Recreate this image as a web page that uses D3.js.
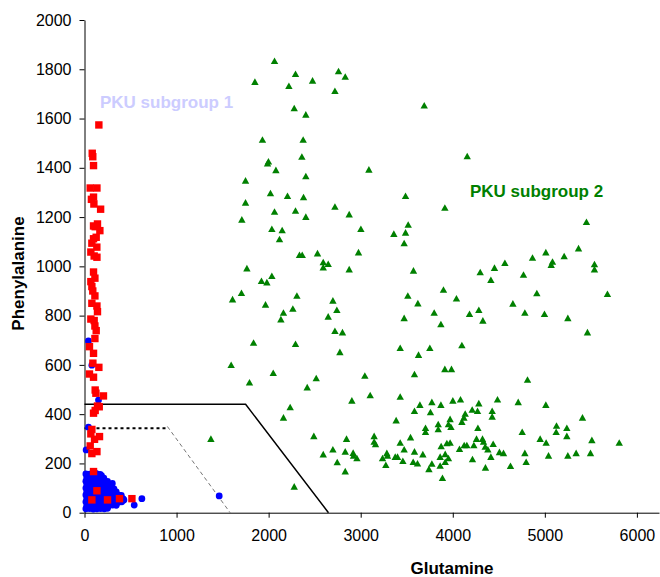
<!DOCTYPE html>
<html>
<head>
<meta charset="utf-8">
<script src="https://cdn.jsdelivr.net/npm/d3@7"></script>
<style>
  html, body { margin: 0; padding: 0; background: #ffffff; }
  svg { display: block; font-family: "Liberation Sans", Arial, sans-serif; }
</style>
</head>
<body>
<svg id="chart" width="660" height="577"></svg>
<script>
// ---------------- DATA ----------------
const xTicks = [0, 1000, 2000, 3000, 4000, 5000, 6000];
const yTicks = [0, 200, 400, 600, 800, 1000, 1200, 1400, 1600, 1800, 2000];
const xTitle = "Glutamine";
const yTitle = "Phenylalanine";
const label1 = "PKU subgroup 1";
const label2 = "PKU subgroup 2";

// Controls (blue circles): [Glutamine, Phenylalanine]
const controls = [
  [43,697],[80,599],[152,457],[43,347],[18,255],[1463,68],[623,57],[540,31],[428,52],
  [15,157],[55,156],[95,158],[135,157],[170,155],[110,163],
  [25,143],[65,142],[105,144],[145,143],[185,150],[210,140],
  [15,128],[55,129],[95,127],[135,128],[175,128],[215,129],[250,127],
  [25,114],[65,113],[105,115],[145,114],[185,113],[225,115],[265,114],[302,119],
  [15,100],[55,101],[95,99],[135,100],[175,100],[215,101],[255,99],[295,100],[320,97],
  [25,86],[65,87],[105,85],[145,86],[185,87],[225,86],[265,85],[305,87],[345,84],
  [15,72],[55,73],[95,71],[135,72],[175,73],[215,72],[255,71],[295,72],[335,73],[375,71],[400,70],
  [25,58],[65,59],[105,57],[145,58],[185,59],[225,58],[265,57],[305,58],[345,59],[385,57],[420,56],
  [15,44],[55,45],[95,43],[135,44],[175,45],[215,44],[255,43],[295,44],[335,45],[375,43],[405,44],
  [25,30],[65,31],[105,29],[145,30],[185,31],[225,30],[265,29],[305,31],[345,30],
  [15,16],[55,17],[95,15],[135,16],[175,17],[215,16],[250,18]
];

// PKU subgroup 1 (red squares)
const pku1 = [
  [156,1574],[84,1459],[90,1445],[98,1409],[62,1318],[135,1318],[98,1281],[75,1272],[102,1253],[175,1232],
  [98,1164],[141,1172],[116,1161],[167,1145],[98,1112],[127,1118],[80,1094],[134,1078],[69,1058],[105,1042],
  [135,1037],[98,977],[113,952],[69,938],[80,918],[90,900],[113,880],[80,850],[135,839],[141,816],
  [69,786],[105,780],[113,758],[127,739],[113,707],[54,674],[98,647],[91,607],[156,590],[54,563],
  [98,550],[116,498],[124,485],[206,474],[160,430],[141,433],[98,404],[116,415],[80,338],[69,320],
  [163,309],[109,298],[62,271],[135,248],[80,240],[98,167],[135,89],[80,52],[250,52],[380,57],[515,57]
];

// PKU subgroup 2 (green triangles)
const pku2 = [
  [2064,1834],[2292,1781],[1851,1749],[2220,1732],[2477,1754],[2278,1642],[2404,1616],[1933,1514],[2375,1514],[2361,1445],
  [1988,1418],[1998,1426],[2079,1391],[2404,1366],[1749,1348],
  [2020,1297],[2205,1286],[2379,1281],[1749,1259],[2064,1222],[2292,1226],[2404,1201],[1709,1190],[2035,1152],[2147,1147],
  [2118,1110],[2335,1046],[2365,1046],[2531,1053],[2593,1017],[2647,1010],[2593,996],[1764,992],[1922,941],[1981,935],
  [2035,961],[1705,892],[1608,866],[2307,881],[1966,845],[2263,828],[2161,812],[2133,785],[2647,796],
  [1836,690],[2292,685],[1593,600],[2050,567],[1792,529],[2517,546],[2419,509],[2234,428],[2161,386],[1373,300],
  [2491,311],[2593,237],[2278,106],
  [2759,1792],[2832,1770],[2720,1712],[3690,1653],[4157,1447],[3089,1393],[3487,1286],[2720,1242],[2875,1211],[3914,1238],
  [3002,1152],[3360,1132],[3487,1137],[3516,1169],[3472,1094],[5452,1180],[5366,1073],[5011,1057],[5210,1041],[4866,1035],
  [5083,1019],[5069,1006],[5539,1009],[5539,988],[4566,1014],[4453,994],[4298,976],[4768,966],[4414,945],[2976,1057],
  [2875,988],[3573,983],[3899,905],
  [4913,891],[5680,888],[3512,881],[2698,861],[3621,850],[4040,870],[4653,849],[2741,823],[3798,812],[4182,807],
  [4283,823],[4783,812],[4996,807],[5250,790],[3472,790],[4327,780],[3871,765],[2720,738],[2802,732],[5463,732],
  [3429,669],[3751,669],[4099,680],[2774,652],[3628,641],[3914,583],[3986,583],[3584,562],[4812,540],[3045,556],
  [3103,477],[3429,471],[2904,455],[3643,438],[3773,449],[3871,438],[4001,455],[4084,460],[4283,444],[4486,460],
  [4711,449],[5011,438],[3584,413],[3758,408],[4211,418],[4269,413],[3385,375],[4135,402],[4121,386],[4099,369],
  [4428,413],[4428,390],[3971,380],[3953,359],[3980,348],[3842,359],[3842,339],[3704,344],[3704,328],[4273,344],
  [5409,386],[4754,328],[5127,353],[5123,328],[5239,344],[5239,311],[3146,311],[3146,288],[3161,278],[3541,306],
  [2698,257],[2846,300],[2832,248],[3429,284],[3472,257],[3874,270],[3936,282],[3971,284],[4073,259],[4124,274],
  [4153,274],[4229,274],[4258,300],[4323,300],[4334,288],[4352,268],[4381,257],[4439,279],[4949,300],[5014,284],
  [5511,295],[5808,284],[2918,243],[2922,232],[2959,221],[2745,205],[2832,168],[3237,221],[3284,242],[3291,232],
  [3273,194],[3375,227],[3400,227],[3458,210],[3584,248],[3570,206],[3617,200],[3675,237],[3741,177],[3773,199],
  [3863,227],[3863,191],[3918,238],[3918,206],[3953,221],[3888,141],[4214,217],[4414,227],[4355,183],[4507,246],
  [4551,242],[4627,190],[4783,242],[4797,206],[5040,232],[5250,232],[5340,242],[5496,242]
];

// Boundary lines
const solidBoundary = [[0,440],[1750,440],[2650,0]];
const dottedBoundary = [[0,343],[900,343]];
const dashedBoundary = [[900,350],[1582,0]];

// ---------------- CHART ----------------
const svg = d3.select("#chart");
const x = d3.scaleLinear().domain([0, 6240]).range([84.5, 659]);
const y = d3.scaleLinear().domain([0, 2000]).range([512.7, 20]);

const xAxis = svg.append("g")
  .attr("transform", `translate(0,${y(0)})`)
  .call(d3.axisBottom(x).tickValues(xTicks).tickSize(5).tickSizeOuter(0).tickPadding(12).tickFormat(d3.format("d")));
const yAxis = svg.append("g")
  .attr("transform", `translate(${x(0)},0)`)
  .call(d3.axisLeft(y).tickValues(yTicks).tickSize(5).tickSizeOuter(0).tickPadding(8).tickFormat(d3.format("d")));

[xAxis, yAxis].forEach(g => {
  g.selectAll("text").attr("font-size", 16).attr("font-family", "'Liberation Sans', Arial, sans-serif").attr("fill", "#000");
  g.selectAll("line").attr("stroke", "#000");
  g.select(".domain").attr("stroke", "#000");
});

// boundary lines
const line = d3.line().x(d => x(d[0])).y(d => y(d[1]));
svg.append("path").attr("d", line(solidBoundary)).attr("fill", "none").attr("stroke", "#000").attr("stroke-width", 1.5);
svg.append("path").attr("d", line(dottedBoundary)).attr("fill", "none").attr("stroke", "#000").attr("stroke-width", 2).attr("stroke-dasharray", "3,3");
svg.append("path").attr("d", line(dashedBoundary)).attr("fill", "none").attr("stroke", "#666").attr("stroke-width", 0.9).attr("stroke-dasharray", "4,3");

// controls (blue)
svg.append("g").selectAll("circle").data(controls).join("circle")
  .attr("cx", d => x(d[0])).attr("cy", d => y(d[1])).attr("r", 3.4).attr("fill", "#0000ff");

// PKU subgroup 1 (red squares)
svg.append("g").selectAll("rect").data(pku1).join("rect")
  .attr("x", d => x(d[0]) - 3.7).attr("y", d => y(d[1]) - 3.7).attr("width", 7.4).attr("height", 7.4).attr("fill", "#ff0000");

// PKU subgroup 2 (green triangles)
const tri = "M0,-3.5L3.7,3.1L-3.7,3.1Z";
svg.append("g").selectAll("path").data(pku2).join("path")
  .attr("transform", d => `translate(${x(d[0])},${y(d[1])})`)
  .attr("d", tri).attr("fill", "#008000");

// labels
svg.append("text").attr("x", 100).attr("y", 108).attr("font-size", 17).attr("font-weight", "bold")
  .attr("fill", "#ccccff").text(label1);
svg.append("text").attr("x", 470).attr("y", 197).attr("font-size", 17).attr("font-weight", "bold")
  .attr("fill", "#008000").text(label2);

// axis titles
svg.append("text").attr("x", 452).attr("y", 574).attr("text-anchor", "middle")
  .attr("font-size", 17).attr("font-weight", "bold").attr("fill", "#000").text(xTitle);
svg.append("text").attr("transform", "translate(23.5,273.5) rotate(-90)").attr("text-anchor", "middle")
  .attr("font-size", 17).attr("font-weight", "bold").attr("fill", "#000").text(yTitle);
</script>
</body>
</html>
